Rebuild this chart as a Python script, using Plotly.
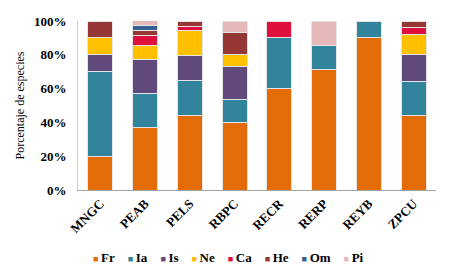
import plotly.graph_objects as go

sites = ["MNGC", "PEAB", "PELS", "RBPC", "RECR", "RERP", "REYB", "ZPCU"]
groups = ["Fr", "Ia", "Is", "Ne", "Ca", "He", "Om", "Pi"]

Fr = [20.0, 37.1, 44.1, 40.0, 60.0, 71.4, 90.0, 44.0]
Ia = [50.0, 20.0, 20.6, 13.3, 30.0, 14.3, 10.0, 20.0]
Is = [10.0, 20.0, 14.7, 20.0, 0, 0, 0, 16.0]
Ne = [10.0, 8.6, 14.7, 6.7, 0, 0, 0, 12.0]
Ca = [0, 5.7, 2.9, 0, 10.0, 0, 0, 4.0]
He = [10.0, 2.9, 2.9, 13.3, 0, 0, 0, 4.0]
Om = [0, 2.9, 0, 0, 0, 0, 0, 0]
Pi = [0, 2.9, 0, 6.7, 0, 14.3, 0, 0]

series = [Fr, Ia, Is, Ne, Ca, He, Om, Pi]
colors = ["#E36C09", "#31849B", "#604A7B", "#FFC000", "#E0103C", "#953735", "#376092", "#E6B9B8"]

serif = "Liberation Serif"

fig = go.Figure()
for name, vals, col in zip(groups, series, colors):
    fig.add_trace(go.Bar(
        name=name, x=sites, y=vals,
        marker=dict(color=col, line=dict(color="#E4E4E4", width=1)),
        showlegend=False,
    ))

# legend as a single text line with coloured squares
legend_html = "\u2002\u2002".join(
    f"<span style='color:{c};font-size:9px'>■</span>\u2009{n}" for n, c in zip(groups, colors)
)
fig.add_annotation(
    text=legend_html, xref="paper", yref="paper", x=0.42, y=-0.40,
    xanchor="center", yanchor="middle", showarrow=False,
    font=dict(family=serif, size=13, color="black", weight="bold"),
)

fig.update_layout(
    barmode="stack",
    bargap=0.44,
    width=449, height=275,
    margin=dict(l=70, r=21, t=13, b=93, autoexpand=False),
    plot_bgcolor="white", paper_bgcolor="white",
    xaxis=dict(
        tickangle=-45,
        tickfont=dict(family=serif, size=13, color="black", weight="bold"),
        showline=True, linecolor="#A6A6A6", linewidth=1,
        ticks="",
    ),
    yaxis=dict(
        range=[0, 100],
        tickvals=[0, 20, 40, 60, 80, 100],
        ticktext=["0%", "20%", "40%", "60%", "80%", "100%"],
        tickfont=dict(family=serif, size=13, color="black", weight="bold"),
        ticklabelstandoff=8,
        showgrid=False, zeroline=False,
        showline=True, linecolor="#C8C8C8", linewidth=1,
        title=dict(text="Porcentaje de especies",
                   font=dict(family=serif, size=12, color="black"), standoff=6),
    ),
)

fig.write_html("out.html")
